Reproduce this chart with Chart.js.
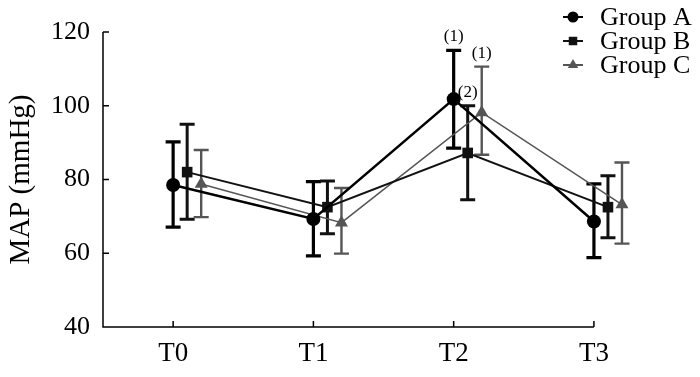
<!DOCTYPE html>
<html><head><meta charset="utf-8">
<script src="https://cdn.jsdelivr.net/npm/chart.js@4/dist/chart.umd.min.js"></script>
<style>html,body{margin:0;padding:0;background:#fff}#wrap{width:700px;height:377px}</style>
</head><body><div id="wrap"><canvas id="c" width="700" height="377"></canvas></div>
<script>
const categories = ['T0','T1','T2','T3'];
const groupNames = ['Group A','Group B','Group C'];
const meanA = [78.5, 69.3, 101.8, 68.6];
const meanB = [82.0, 72.5, 87.2, 72.5];
const meanC = [78.8, 68.3, 98.2, 73.2];
const upperA = [90.2, 79.4, 115.0, 78.8];
const lowerA = [67.1, 59.3, 88.5, 58.8];
const upperB = [95.0, 79.6, 100.0, 81.0];
const lowerB = [69.2, 65.3, 74.5, 64.2];
const upperC = [88.0, 77.7, 110.6, 84.6];
const lowerC = [69.8, 59.9, 86.7, 62.6];
const marksA = ['', '', '(1)', ''];
const marksB = ['', '', '(2)', ''];
const marksC = ['', '', '(1)', ''];
const yTicks = [40, 60, 80, 100, 120];

const SERIF = '"Liberation Serif","DejaVu Serif",serif';
const offsets = [0, 0.1, 0.2];
const colors = ['#000000', '#111111', '#555555'];
const lineW = [2.5, 2, 1.5];
const barW = [3.2, 3, 2.4];
const styles = ['circle', 'rect', 'triangle'];
const radii = [7, 7.5, 7.5];
const means = [meanA, meanB, meanC];
const uppers = [upperA, upperB, upperC];
const lowers = [lowerA, lowerB, lowerC];
const marks = [marksA, marksB, marksC];

const datasets = groupNames.map((n, i) => ({
  label: n,
  data: means[i].map((v, k) => ({x: k + offsets[i], y: v})),
  showLine: true,
  clip: false,
  borderColor: colors[i],
  backgroundColor: colors[i],
  borderWidth: lineW[i],
  pointStyle: styles[i],
  pointRadius: radii[i],
  pointHoverRadius: radii[i],
  pointBorderWidth: 0
}));

const customPlugin = {
  id: 'custom',
  beforeDatasetsDraw(chart) {
    const ctx = chart.ctx, xs = chart.scales.x, ys = chart.scales.y;
    ctx.save();
    for (let i = 0; i < 3; i++) {
      ctx.strokeStyle = colors[i];
      ctx.lineWidth = barW[i];
      ctx.lineCap = 'butt';
      for (let k = 0; k < categories.length; k++) {
        const x = xs.getPixelForValue(k + offsets[i]);
        const yu = ys.getPixelForValue(uppers[i][k]);
        const yl = ys.getPixelForValue(lowers[i][k]);
        ctx.beginPath();
        ctx.moveTo(x, yu); ctx.lineTo(x, yl);
        ctx.moveTo(x - 7.5, yu); ctx.lineTo(x + 7.5, yu);
        ctx.moveTo(x - 7.5, yl); ctx.lineTo(x + 7.5, yl);
        ctx.stroke();
      }
    }
    ctx.restore();
  },
  afterDatasetsDraw(chart) {
    const ctx = chart.ctx, xs = chart.scales.x, ys = chart.scales.y;
    ctx.save();
    const l = chart.chartArea.left, b = chart.chartArea.bottom, t = chart.chartArea.top;
    const r = xs.getPixelForValue(categories.length - 1);
    ctx.strokeStyle = '#000'; ctx.lineWidth = 1.5;
    ctx.beginPath();
    ctx.moveTo(l, t); ctx.lineTo(l, b); ctx.lineTo(r, b);
    yTicks.forEach(v => { const y = ys.getPixelForValue(v); ctx.moveTo(l, y); ctx.lineTo(l + 6, y); });
    categories.forEach((c, k) => { const x = xs.getPixelForValue(k); ctx.moveTo(x, b); ctx.lineTo(x, b - 6); });
    ctx.stroke();
    ctx.fillStyle = '#000';
    ctx.font = '17px ' + SERIF;
    ctx.textAlign = 'center'; ctx.textBaseline = 'bottom';
    for (let i = 0; i < 3; i++) {
      for (let k = 0; k < categories.length; k++) {
        if (!marks[i][k]) continue;
        const x = xs.getPixelForValue(k + offsets[i]);
        const y = ys.getPixelForValue(uppers[i][k]);
        ctx.fillText(marks[i][k], x, y - 5);
      }
    }
    ctx.font = '26px ' + SERIF;
    ctx.textAlign = 'left'; ctx.textBaseline = 'middle';
    const lx = 573, ly = [17, 41, 65];
    for (let i = 0; i < 3; i++) {
      ctx.strokeStyle = colors[i]; ctx.fillStyle = colors[i]; ctx.lineWidth = 2;
      ctx.beginPath(); ctx.moveTo(lx - 10, ly[i]); ctx.lineTo(lx + 10, ly[i]); ctx.stroke();
      Chart.helpers.drawPoint(ctx, {pointStyle: styles[i], radius: radii[i] - 1.5, borderWidth: 0}, lx, ly[i]);
      ctx.fillStyle = '#000';
      ctx.fillText(groupNames[i], lx + 27, ly[i] + 1);
    }
    ctx.restore();
  }
};

new Chart(document.getElementById('c'), {
  type: 'scatter',
  data: {datasets},
  plugins: [customPlugin],
  options: {
    responsive: false,
    animation: false,
    layout: {padding: {top: 32, right: 71, left: 0, bottom: 0}},
    plugins: {legend: {display: false}, tooltip: {enabled: false}},
    scales: {
      x: {
        type: 'linear', min: -0.5, max: 3.25,
        afterBuildTicks: s => { s.ticks = categories.map((c, k) => ({value: k})); },
        afterFit: s => { s.height = 50; },
        grid: {display: false, drawTicks: false},
        border: {display: false},
        ticks: {color: '#000', font: {family: SERIF, size: 27}, padding: 11,
          callback: v => categories[v]}
      },
      y: {
        min: 40, max: 120,
        afterBuildTicks: s => { s.ticks = yTicks.map(v => ({value: v})); },
        afterFit: s => { s.width = 103; },
        grid: {display: false, drawTicks: false},
        border: {display: false},
        ticks: {color: '#000', font: {family: SERIF, size: 26}, padding: 13},
        title: {display: true, text: 'MAP (mmHg)', color: '#000', font: {family: SERIF, size: 29}, padding: {top: 4, bottom: 0}}
      }
    }
  }
});
</script></body></html>
